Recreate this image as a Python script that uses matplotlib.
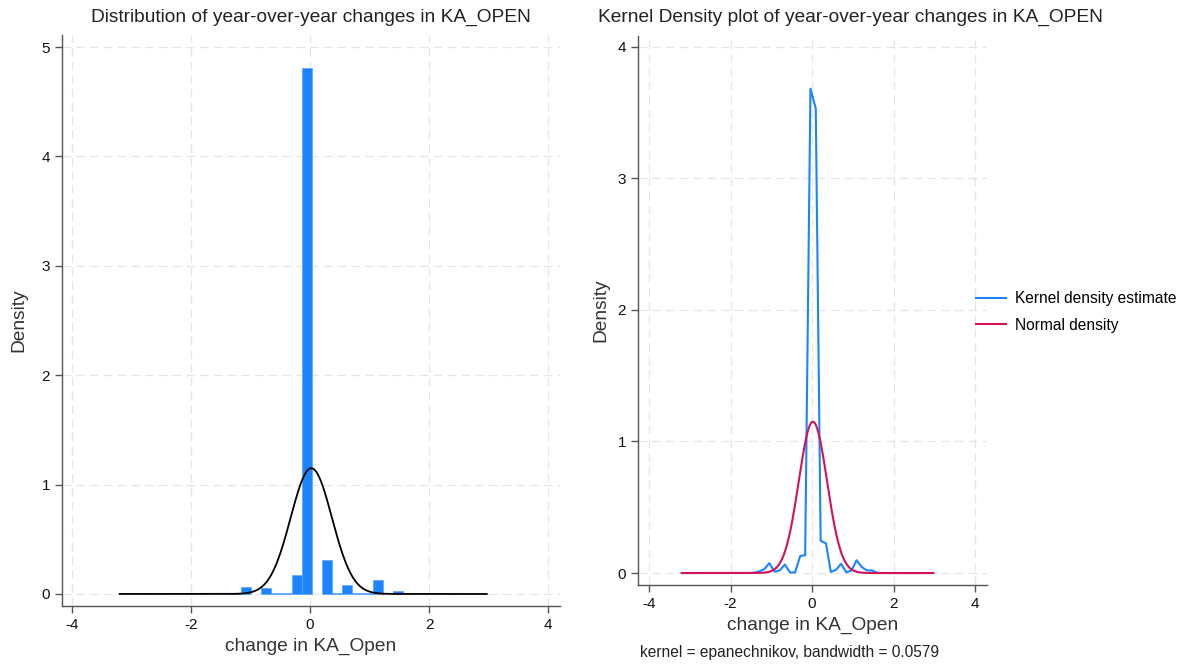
import numpy as np
import matplotlib
matplotlib.use('Agg')
import matplotlib.pyplot as plt

plt.rcParams['font.family'] = ['Liberation Sans', 'DejaVu Sans']
plt.rcParams['axes.unicode_minus'] = False

# histogram (left panel): left edges of bins and densities
bin_left = [-1.33, -1.16, -0.82, -0.65, -0.48, -0.31, -0.14, 0.20, 0.37, 0.54, 0.71, 0.88, 1.05, 1.39]
hist_density = [0.01, 0.06, 0.055, 0.005, 0.005, 0.17, 4.81, 0.31, 0.005, 0.085, 0.005, 0.005, 0.125, 0.025]
bin_width = 0.17

# normal overlay, read from the peak height / position
norm_mu = 0.02
norm_sd = 0.347
data_min, data_max = -3.2, 2.97

# kernel density estimate (right panel)
kde_x = [-3.18, -3.05, -2.93, -2.80, -2.67, -2.55, -2.42, -2.30, -2.17, -2.05,
         -1.92, -1.79, -1.67, -1.54, -1.42, -1.30, -1.17, -1.05, -0.92, -0.79,
         -0.67, -0.54, -0.42, -0.29, -0.17, -0.04, 0.09, 0.21, 0.34, 0.46,
         0.59, 0.71, 0.84, 0.97, 1.09, 1.22, 1.34, 1.47, 1.60, 1.72,
         1.85, 1.97, 2.10, 2.22, 2.35, 2.48, 2.60, 2.73, 2.85, 2.97]
kde_y = [0, 0, 0, 0, 0, 0, 0, 0, 0, 0,
         0, 0, 0, 0, 0.002, 0.012, 0.03, 0.075, 0.01, 0.02,
         0.065, 0.005, 0.004, 0.13, 0.135, 3.68, 3.53, 0.245, 0.225, 0.008,
         0.025, 0.07, 0.005, 0.02, 0.097, 0.045, 0.02, 0.02, 0.002, 0,
         0, 0, 0, 0, 0, 0, 0, 0, 0, 0]

blue = '#1a85ff'
red = '#d51159'
axcol = '#555555'


def style(ax, yticks):
    for s in ['top', 'right']:
        ax.spines[s].set_visible(False)
    for s in ['left', 'bottom']:
        ax.spines[s].set_color(axcol)
        ax.spines[s].set_linewidth(1.0)
    ax.set_xticks([-4, -2, 0, 2, 4])
    ax.set_yticks(yticks)
    ax.tick_params(colors=axcol, labelcolor='#111111', labelsize=11, length=5, width=1)
    ax.grid(True, color='#e6e6e6', linestyle=(0, (7, 4)), linewidth=0.9)
    ax.set_axisbelow(True)
    ax.set_xlabel('change in KA_Open', fontsize=13.8, color='#333333', labelpad=4)
    ax.set_ylabel('Density', fontsize=13.8, color='#333333', labelpad=6)


fig = plt.figure(figsize=(11.9, 6.64), dpi=100)

# left: histogram with normal curve
ax1 = fig.add_axes([62 / 1190, 58 / 664, 498 / 1190, 571 / 664])
ax1.bar(bin_left, hist_density, width=bin_width, align='edge', color=blue,
        edgecolor='#5aa5ff', linewidth=0.5, zorder=2)
xs = np.linspace(data_min, data_max, 400)
norm_y = np.exp(-0.5 * ((xs - norm_mu) / norm_sd) ** 2) / (norm_sd * np.sqrt(2 * np.pi))
ax1.plot(xs, norm_y, color='black', lw=1.3, zorder=3)
ax1.set_xlim(-4.17, 4.2)
ax1.set_ylim(-0.11, 5.11)
style(ax1, [0, 1, 2, 3, 4, 5])
ax1.yaxis.labelpad = 10
fig.text(311 / 1190, 1 - 17 / 664, 'Distribution of year-over-year changes in KA_OPEN',
         ha='center', va='center', fontsize=13.8, color='#222222')

# right: kernel density
ax2 = fig.add_axes([638 / 1190, 79 / 664, 349 / 1190, 549 / 664])
l1, = ax2.plot(kde_x, kde_y, color=blue, lw=1.5, zorder=2, label='Kernel density estimate')
l2, = ax2.plot(xs, norm_y, color=red, lw=1.5, zorder=3, label='Normal density')
ax2.set_xlim(-4.27, 4.29)
ax2.set_ylim(-0.091, 4.08)
style(ax2, [0, 1, 2, 3, 4])
fig.text(850 / 1190, 1 - 17 / 664, 'Kernel Density plot of year-over-year changes in KA_OPEN',
         ha='center', va='center', fontsize=13.8, color='#222222')
fig.text(790 / 1190, 1 - 653 / 664, 'kernel = epanechnikov, bandwidth = 0.0579',
         ha='center', va='center', fontsize=11.2, color='#222222')

fig.legend(handles=[l1, l2], loc='center left', bbox_to_anchor=(976 / 1190, 1 - 312 / 664),
           frameon=False, fontsize=11.2, handlelength=1.9, handletextpad=0.6,
           labelspacing=0.75, borderpad=0, borderaxespad=0)

fig.savefig('out.png', dpi=100)
